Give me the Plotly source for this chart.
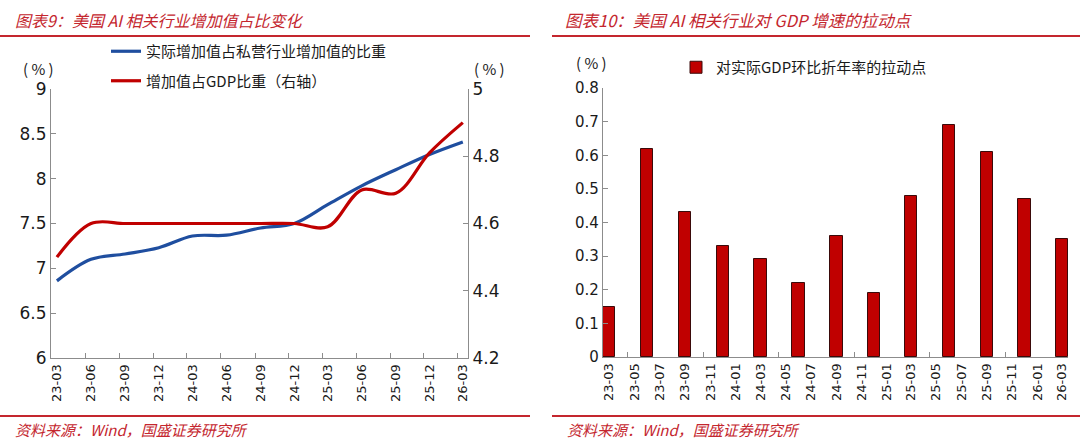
import pandas as pd
import plotly.graph_objects as go

# ---- data ----
line_dates = ["2023-03-01", "2023-06-01", "2023-09-01", "2023-12-01", "2024-03-01", "2024-06-01",
              "2024-09-01", "2024-12-01", "2025-03-01", "2025-06-01", "2025-09-01", "2025-12-01",
              "2026-03-01"]
line_labels = ["23-03", "23-06", "23-09", "23-12", "24-03", "24-06", "24-09", "24-12",
               "25-03", "25-06", "25-09", "25-12", "26-03"]
share_private = [6.86, 7.10, 7.16, 7.23, 7.36, 7.37, 7.45, 7.50, 7.71, 7.92, 8.10, 8.27, 8.41]
share_gdp = [4.50, 4.60, 4.60, 4.60, 4.60, 4.60, 4.60, 4.60, 4.59, 4.70, 4.69, 4.81, 4.90]

bar_dates = line_dates
bar_values = [0.15, 0.62, 0.43, 0.33, 0.29, 0.22, 0.36, 0.19, 0.48, 0.69, 0.61, 0.47, 0.35]
bar_tick_dates = ["2023-03-01", "2023-05-01", "2023-07-01", "2023-09-01", "2023-11-01", "2024-01-01",
                  "2024-03-01", "2024-05-01", "2024-07-01", "2024-09-01", "2024-11-01", "2025-01-01",
                  "2025-03-01", "2025-05-01", "2025-07-01", "2025-09-01", "2025-11-01", "2026-01-01",
                  "2026-03-01"]
bar_tick_labels = ["23-03", "23-05", "23-07", "23-09", "23-11", "24-01", "24-03", "24-05", "24-07",
                   "24-09", "24-11", "25-01", "25-03", "25-05", "25-07", "25-09", "25-11", "26-01",
                   "26-03"]

W, H = 1080, 444
RED = "#c00000"
BLUE = "#1f4e9f"
TITLE_RED = "#c4262e"
GRAY = "#8c8c8c"
FONT = "DejaVu Sans, Noto Sans CJK SC"
CJK = "Noto Sans CJK SC, DejaVu Sans"

def px(x):
    return x / W

def py(y):
    return 1 - y / H

fig = go.Figure()

fig.add_trace(go.Scatter(x=line_dates, y=share_private, name="实际增加值占私营行业增加值的比重",
                         mode="lines", line=dict(color=BLUE, width=3.2, shape="spline"),
                         xaxis="x", yaxis="y", legend="legend", legendgroup="a"))
fig.add_trace(go.Scatter(x=line_dates, y=share_gdp, name="增加值占GDP比重（右轴）",
                         mode="lines", line=dict(color=RED, width=3.2, shape="spline"),
                         xaxis="x", yaxis="y2", legend="legend", legendgroup="b"))

month_ms = 30 * 24 * 3600 * 1000
fig.add_trace(go.Bar(x=bar_dates, y=bar_values, name="对实际GDP环比折年率的拉动点",
                     width=month_ms, marker=dict(color=RED, line=dict(color="#3a0a0a", width=1)),
                     xaxis="x2", yaxis="y3", legend="legend2"))

# minor ticks (Excel style)
line_minor = [(d - pd.Timedelta(days=15)).strftime("%Y-%m-%d") for d in pd.to_datetime(line_dates[1:])]
bar_minor = [(d + pd.Timedelta(days=45)).strftime("%Y-%m-%d") for d in pd.to_datetime(bar_dates[::2][:-1])]

line_style = dict(showline=True, linecolor=GRAY, linewidth=1.2, showgrid=False, zeroline=False,
                  tickcolor=GRAY, ticklen=5, automargin=False)

fig.update_layout(
    width=W, height=H, margin=dict(l=0, r=0, t=0, b=0, autoexpand=False),
    paper_bgcolor="white", plot_bgcolor="white",
    font=dict(family=FONT, color="#1a1a1a"),
    bargap=0,
    xaxis=dict(domain=[px(51), px(468)], type="date",
               range=["2023-02-13", "2026-03-15"],
               tickmode="array", tickvals=line_dates, ticktext=line_labels, tickangle=-90,
               tickfont=dict(size=13), anchor="y", ticks="",
               minor=dict(tickmode="array", tickvals=line_minor, ticks="inside", ticklen=5, tickcolor=GRAY),
               **line_style),
    yaxis=dict(domain=[py(358), py(89)], range=[6, 9], dtick=0.5, tickfont=dict(size=17),
               anchor="x", ticks="inside", **line_style),
    yaxis2=dict(domain=[py(358), py(89)], range=[4.2, 5], dtick=0.2, tickfont=dict(size=17),
                overlaying="y", side="right", anchor="x", ticks="inside", **line_style),
    xaxis2=dict(domain=[px(603), px(1068)], type="date",
                range=["2023-02-14", "2026-03-16"],
                tickmode="array", tickvals=bar_tick_dates, ticktext=bar_tick_labels, tickangle=-90,
                tickfont=dict(size=13), anchor="y3", ticks="",
                minor=dict(tickmode="array", tickvals=bar_minor, ticks="inside", ticklen=5, tickcolor=GRAY),
                **line_style),
    yaxis3=dict(domain=[py(357), py(88)], range=[0, 0.8], dtick=0.1, tickfont=dict(size=15),
                anchor="x2", ticks="inside", **line_style),
    legend=dict(x=px(106), y=py(35), xanchor="left", yanchor="top", orientation="v",
                font=dict(size=15, family=CJK), tracegroupgap=7, bgcolor="rgba(0,0,0,0)"),
    legend2=dict(x=px(676), y=py(51), xanchor="left", yanchor="top",
                 font=dict(size=15, family=CJK), bgcolor="rgba(0,0,0,0)"),
)

# titles, source notes and separator lines
texts = [
    (13, 20, "<i>图表9：美国 AI 相关行业增加值占比变化</i>", 16, TITLE_RED),
    (563, 20, "<i>图表10：美国 AI 相关行业对 GDP 增速的拉动点</i>", 16.5, TITLE_RED),
    (13, 429, "<i>资料来源：Wind，国盛证券研究所</i>", 15, TITLE_RED),
    (565, 429, "<i>资料来源：Wind，国盛证券研究所</i>", 15, TITLE_RED),
    (21, 68, "( % )", 15, "#1a1a1a"),
    (472, 68, "( % )", 15, "#1a1a1a"),
    (574, 62, "( % )", 15, "#1a1a1a"),
]
for x, y, t, s, c in texts:
    fig.add_annotation(x=px(x), y=py(y), xref="paper", yref="paper", text=t, showarrow=False,
                       xanchor="left", yanchor="middle", font=dict(size=s, color=c, family=CJK))

for x0, x1, y in [(0, 530, 36), (552, 1080, 36), (0, 530, 416), (552, 1080, 416)]:
    fig.add_shape(type="line", xref="paper", yref="paper", x0=px(x0), x1=px(x1), y0=py(y), y1=py(y),
                  line=dict(color=TITLE_RED, width=2))

# the page body has a default 8px margin; drop it so the figure fills the window
fig.write_html("out.html", config={"displayModeBar": False},
               post_script="document.body.style.margin='0';")
